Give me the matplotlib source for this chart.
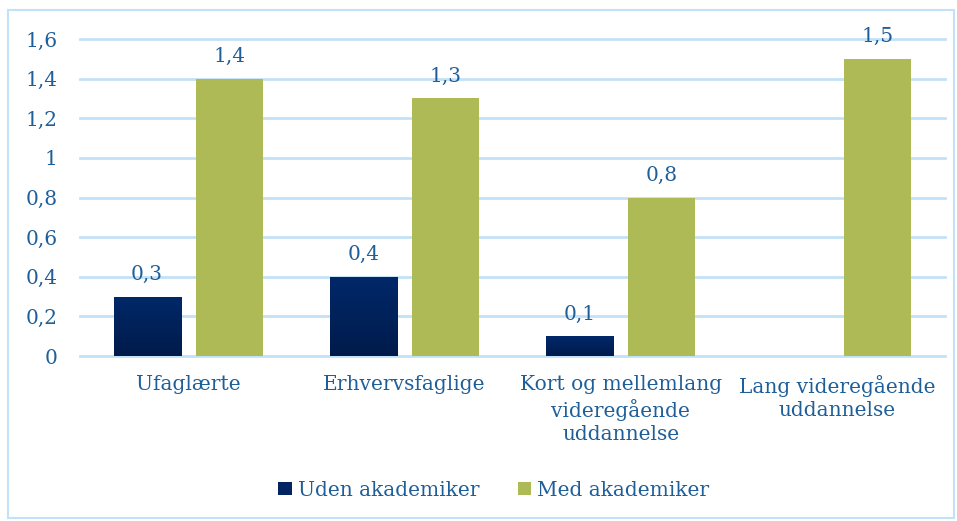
import numpy as np
import matplotlib.pyplot as plt
import matplotlib.patches as mpatches
from matplotlib.colors import LinearSegmentedColormap

# --- data ---
categories = ['Ufaglærte', 'Erhvervsfaglige',
              'Kort og mellemlang\nvideregående\nuddannelse',
              'Lang videregående\nuddannelse']
uden = [0.3, 0.4, 0.1, np.nan]
med = [1.4, 1.3, 0.8, 1.5]
series_names = ['Uden akademiker', 'Med akademiker']
yticks = [0, 0.2, 0.4, 0.6, 0.8, 1, 1.2, 1.4, 1.6]

text_col = '#1F5F99'
grid_col = '#C3E1F7'
navy = '#012563'
olive = '#AEBA56'
fs = 14.5

plt.rcParams['font.family'] = ['DejaVu Serif']

fig = plt.figure(figsize=(9.57, 5.21), dpi=100)
ax = fig.add_axes([80/957, 1-356/521, 865/957, 317/521])

x = np.arange(len(categories))
w = 0.31
off = 0.19

b1 = ax.bar(x - off, uden, w, color=navy, zorder=3)
b2 = ax.bar(x + off, med, w, color=olive, zorder=3)

# vertical gradient on the dark bars
grad = np.linspace(0, 1, 256).reshape(-1, 1)
cm = LinearSegmentedColormap.from_list('nv', ['#001b4b', '#012869'])
for r in b1:
    h = r.get_height()
    if np.isnan(h):
        continue
    x0 = r.get_x()
    im = ax.imshow(grad, cmap=cm, aspect='auto', origin='lower',
                   extent=[x0, x0 + r.get_width(), 0, h], zorder=4)
    im.set_clip_path(r)

for xs, vals in [(x - off, uden), (x + off, med)]:
    for xi, v in zip(xs, vals):
        if np.isnan(v):
            continue
        ax.annotate(f'{v:.1f}'.replace('.', ','), (xi, v), xytext=(0, 9),
                    textcoords='offset points', ha='center', va='bottom',
                    color=text_col, fontsize=fs)

ax.set_xlim(-0.5, len(categories) - 0.5)
ax.set_ylim(0, 1.6)
ax.set_yticks(yticks)
ax.set_yticklabels([f'{t:g}'.replace('.', ',') for t in yticks], color=text_col, fontsize=fs)
ax.set_xticks(x)
ax.set_xticklabels(categories, color=text_col, fontsize=fs, linespacing=1.25)
ax.tick_params(axis='both', length=0)
ax.tick_params(axis='y', pad=16)
ax.tick_params(axis='x', pad=14)
ax.grid(axis='y', color=grid_col, linewidth=2, zorder=0)
for gl in ax.get_ygridlines():
    gl.set_clip_on(False)
for s in ax.spines.values():
    s.set_visible(False)

handles = [mpatches.Patch(facecolor=navy, label=series_names[0]),
           mpatches.Patch(facecolor=olive, label=series_names[1])]
fig.legend(handles=handles, loc='center', bbox_to_anchor=(494/957, 1-490/521), ncol=2,
           frameon=False, fontsize=fs, handlelength=0.65, handleheight=0.65,
           handletextpad=0.3, columnspacing=1.95, labelcolor=text_col)

# outer chart border
fig.patches.append(mpatches.Rectangle((8/957, 1-518/521), 946/957, 508/521,
                                      transform=fig.transFigure, fill=False,
                                      edgecolor=grid_col, linewidth=1.5))

plt.savefig('out.png', dpi=100)
